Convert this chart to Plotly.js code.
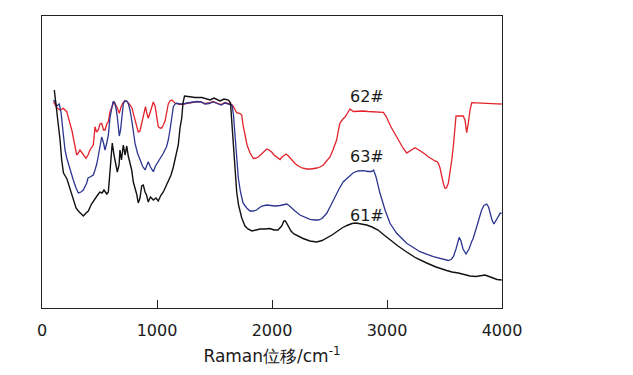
<!DOCTYPE html>
<html>
<head>
<meta charset="utf-8">
<script src="https://cdn.plot.ly/plotly-3.0.1.min.js"></script>
<style>html,body{margin:0;padding:0;background:#fff;}#chart{width:633px;height:375px;}</style>
</head>
<body>
<div id="chart"></div>
<script>
// Raman shift (cm^-1) and relative intensity (arbitrary units) for each sample
const x61 = [107,128,139,157,171,187,217,243,272,296,316,339,359,383,403,430,452,476,490,504,522,539,563,577,591,611,626,639,655,670,678,691,707,722,737,750,765,780,794,809,823,837,852,867,881,896,909,924,943,968,991,1011,1035,1055,1078,1098,1122,1142,1165,1185,1200,1215,1226,1239,1270,1330,1391,1426,1461,1496,1522,1548,1583,1622,1639,1652,1665,1678,1693,1709,1737,1765,1791,1826,1861,1896,1939,1983,2017,2052,2084,2104,2117,2142,2165,2191,2226,2270,2330,2389,2435,2478,2522,2565,2609,2652,2696,2730,2774,2824,2870,2922,2974,3026,3096,3171,3252,3345,3426,3519,3565,3620,3670,3722,3774,3817,3852,3887,3924,3957,3997];
const y61 = [218,198,183,168,148,135,129,120,108,100,97,94,92,95,97,104,108,112,114,116,115,118,114,116,140,165,153,146,136,143,158,148,163,153,162,152,146,138,126,120,114,105,110,122,123,116,113,106,111,108,110,107,113,116,122,127,133,141,153,163,180,190,205,212,211.5,210.5,210.5,209,208,210,208.5,207,209,208,205,183,156,133,116,103,90,82,79,77,78,79,79,79.5,78,78,82,87,87,82,77,74,72,69.5,67,66,67.5,70,73,76.5,80,82.5,84.5,85,84,83,81,78,73,68,62,56,50,45,41,37.5,36,35,33.5,32,31.5,32.5,33,31.5,29.7,28.5,28];

const x63 = [100,113,130,150,165,185,200,215,243,272,296,316,339,359,389,400,417,446,461,476,491,504,519,535,548,563,577,591,606,617,630,643,655,672,683,693,707,722,737,750,765,780,796,809,830,852,874,896,909,924,943,968,987,1011,1035,1055,1083,1098,1113,1128,1142,1157,1171,1200,1229,1261,1304,1348,1383,1417,1452,1487,1522,1557,1591,1626,1652,1665,1678,1693,1707,1726,1748,1780,1809,1838,1865,1887,1913,1954,1983,2026,2070,2096,2128,2148,2171,2200,2243,2287,2330,2374,2403,2435,2476,2513,2548,2583,2620,2661,2707,2748,2794,2835,2867,2883,2904,2939,2983,3026,3084,3171,3287,3403,3461,3504,3533,3557,3577,3600,3614,3628,3643,3661,3687,3713,3735,3750,3774,3800,3823,3843,3867,3883,3896,3913,3930,3948,3967,3985,3997];
const y63 = [208,206,202,204,196,170,158,150,138,128,120,115,116,118,125,130,131,133,138,144,153,163,171,165,158,165,173,190,201,206,206,200,191,172,178,192,204,207.3,207,204.7,198,188,173,164.7,155,148,142,138,142,146.3,141,136.3,142,146.3,151,154.7,161.3,168,178,190,201.3,204,204.7,204,204,205,205.5,206.5,206,204,204.5,206,204.5,203,205,204,203,193,173,148,130,116,105,100,97,97,98,100,102,103,102.5,102,102.5,103.5,104,102.5,99.7,97,93,90.5,88.7,88,88,89.5,94.7,103,111.3,119,126.3,131,135.3,137,137.3,136.5,136.5,138,131.3,114.7,98,84.7,74.7,64.7,56.3,51.3,49.5,48,47.5,48.5,51.3,59,66,70.7,67,59,54,59,66,69.7,79,90,98,102.5,104,101,94.7,88,84,87,91.3,95,94.7];

const x62 = [100,113,130,157,185,215,230,243,261,272,287,302,317,330,343,359,383,400,417,446,454,461,474,490,504,519,535,548,563,577,591,606,626,650,661,672,687,702,722,739,765,783,794,809,823,837,852,865,881,891,900,909,924,939,954,968,983,997,1011,1026,1041,1055,1070,1085,1098,1113,1128,1157,1200,1229,1258,1287,1330,1374,1417,1452,1487,1522,1557,1591,1626,1643,1661,1678,1693,1722,1737,1748,1765,1783,1809,1838,1861,1881,1904,1924,1954,1974,1997,2017,2041,2070,2087,2100,2122,2143,2171,2200,2229,2261,2302,2339,2389,2417,2446,2478,2504,2530,2562,2578,2591,2617,2635,2652,2678,2707,2748,2794,2835,2881,2922,2968,2991,3011,3035,3055,3083,3113,3139,3171,3200,3226,3243,3270,3302,3330,3359,3387,3417,3435,3446,3461,3476,3491,3504,3517,3533,3548,3563,3578,3591,3600,3635,3663,3678,3693,3707,3722,3737,3774,3817,3867,3913,3957,3997];
const y62 = [206,203,200,198,199.7,196.3,191,184.7,177,171.3,161,153,155,158,156,153,149.7,153,158,163,173,181.3,176,178,184,184.7,178,178,184,186.3,196,201.3,206.3,201.3,198,194.7,201,204.7,207.5,206.5,203,200,194.7,188,180,176,177,184,192,200,201.3,196,189.7,195,201,206,202,193,181.3,180,180,183,187,196,204,207,208,205,203.5,204,204.7,205,206,206.3,204.5,205,206.5,205,203.5,205.5,204.5,204,202,198,195.3,194.5,193,183,173,163,155,149.5,150,151,153.5,156,159,158,156,153,151,148.5,151,152.5,154,152,148,144.5,142,140,139,139,140,141,143,147,151,158,168,178,185,189,191,194,199,196.5,197,197,196.5,196.3,196,195.7,192,186.3,181,177,171,165,160,155,157,159.5,160.3,158.5,156.3,154,151.3,149,147,146.5,145,140,131.3,124,119.7,120,124.7,135,148,163,178,192,192,192,188,175.3,185,198,205.3,205,205,204.7,204.5,204.2,204];

const sampleLabels = ["62#", "63#", "61#"];
const labelX = [2824, 2824, 2824];
const labelY = [212, 152, 93];
const xTicks = [0, 1000, 2000, 3000, 4000];

const traces = [
  {x: x62, y: y62, name: "62#", mode: "lines", line: {color: "#e2232b", width: 1.3}},
  {x: x63, y: y63, name: "63#", mode: "lines", line: {color: "#2c3590", width: 1.3}},
  {x: x61, y: y61, name: "61#", mode: "lines", line: {color: "#111111", width: 1.4}}
];

const annotations = sampleLabels.map((t, i) => ({
  x: labelX[i], y: labelY[i], xref: "x", yref: "y", text: t, showarrow: false,
  font: {family: "DejaVu Sans", size: 16, color: "#1a1a1a"}, xanchor: "center", yanchor: "middle"
}));

const layout = {
  width: 633, height: 375,
  margin: {l: 42, r: 131, t: 16, b: 67, pad: 0},
  paper_bgcolor: "#ffffff", plot_bgcolor: "#ffffff",
  showlegend: false,
  font: {family: "DejaVu Sans", size: 16, color: "#1a1a1a"},
  xaxis: {
    range: [0, 4000], tickvals: xTicks, ticktext: xTicks.map(String),
    ticks: "inside", ticklen: 8, tickwidth: 1, tickcolor: "#222",
    ticklabelstandoff: 8,
    showline: true, mirror: true, linecolor: "#222", linewidth: 1.2,
    showgrid: false, zeroline: false,
    tickfont: {family: "DejaVu Sans", size: 16, color: "#1a1a1a"},
    title: {text: "Raman位移/cm<sup>-1</sup>", font: {family: "DejaVu Sans", size: 17, color: "#1a1a1a"}, standoff: 10}
  },
  yaxis: {
    range: [0, 292], showticklabels: false, ticks: "",
    showline: true, mirror: true, linecolor: "#222", linewidth: 1.2,
    showgrid: false, zeroline: false
  },
  annotations: annotations
};

Plotly.newPlot("chart", traces, layout, {staticPlot: true, displayModeBar: false});
</script>
</body>
</html>
